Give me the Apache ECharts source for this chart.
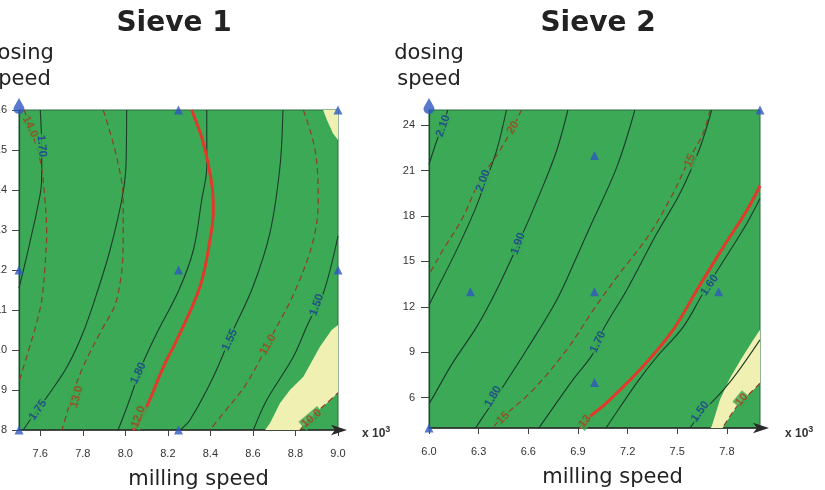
<!DOCTYPE html>
<html><head><meta charset="utf-8">
<script src="https://cdn.jsdelivr.net/npm/echarts@6/dist/echarts.min.js"></script>
<style>html,body{margin:0;padding:0;background:#fff}#c{width:825px;height:490px}</style>
</head><body><div id="c"></div>
<script>
// ===== Sieve 1 : milling speed (x10^3) vs dosing speed =====
const s1XTicks = [7.6, 7.8, 8.0, 8.2, 8.4, 8.6, 8.8, 9.0];
const s1Design = [[8.25,16],[9.0,16],[7.5,12],[8.25,12],[9.0,12],[7.5,8],[8.25,8]];
// solid contours (response A)
const s1_c170 = [[7.600,16],[7.607,15.0],[7.606,14.2],[7.585,13.5],[7.560,12.9],[7.530,12.2],[7.500,11.55]];
const s1_c175 = [[8.006,16],[8.003,14.6],[7.983,13.75],[7.928,12.5],[7.871,11.5],[7.801,10.43],[7.726,9.58],[7.632,8.83],[7.552,8.25],[7.520,8.0]];
const s1_c180 = [[8.383,16],[8.383,14.58],[8.359,13.75],[8.320,12.5],[8.252,11.5],[8.149,10.43],[8.083,9.68],[8.008,8.58],[7.966,8.0]];
const s1_c155 = [[8.741,16],[8.727,14.58],[8.680,12.93],[8.600,11.58],[8.508,10.5],[8.414,9.33],[8.304,8.25],[8.257,8.0]];
const s1_c150 = [[9.0,12.85],[8.931,11.42],[8.860,10.67],[8.790,9.83],[8.665,8.75],[8.602,8.0]];
// dashed contours (response B)
const s1_c140 = [[7.524,16],[7.536,15.83],[7.599,14.75],[7.622,13.75],[7.630,12.93],[7.622,12.08],[7.607,11.25],[7.583,10.68],[7.536,9.83],[7.500,9.2]];
const s1_c130 = [[7.896,16],[7.959,14.83],[7.990,13.75],[7.990,12.75],[7.959,11.25],[7.881,10.43],[7.801,9.58],[7.749,8.83],[7.702,8.0]];
const s1_c110 = [[8.837,16],[8.892,15.0],[8.907,13.75],[8.884,12.75],[8.800,11.5],[8.696,10.42],[8.571,9.17],[8.461,8.42],[8.398,8.0]];
const s1_c100 = [[8.821,8.0],[8.884,8.375],[8.947,8.67],[9.0,8.93]];
// highlighted contour 12.0
const s1_c120 = [[8.312,16],[8.367,15.17],[8.406,14.17],[8.414,13.5],[8.398,12.75],[8.351,11.58],[8.242,10.25],[8.179,9.58],[8.100,8.58],[8.037,8.0]];
// out-of-spec regions
const s1_yellowA = [[9.0,10.625],[8.970,10.5],[8.915,10.08],[8.837,9.33],[8.774,9.0],[8.727,8.67],[8.680,8.17],[8.657,8.0],[8.821,8.0],[8.884,8.375],[8.947,8.67],[9.0,8.93]];
const s1_yellowB = [[8.93,16],[9.0,16],[9.0,15.25],[8.976,15.42],[8.948,15.75]];
// contour labels: [text, x, y]
const s1_labelsSolid = [['1.70',7.607,15.1],['1.75',7.589,8.5],['1.80',8.061,9.42],['1.55',8.492,10.25],['1.50',8.900,11.125]];
const s1_labelsDashed = [['14.0',7.552,15.58],['13.0',7.771,8.83],['12.0',8.061,8.33],['11.0',8.671,10.13],['10.0',8.876,8.29]];

// ===== Sieve 2 =====
const s2XTicks = [6.0, 6.3, 6.6, 6.9, 7.2, 7.5, 7.8];
const s2YTicks = [6, 9, 12, 15, 18, 21, 24];
const s2Design = [[6.0,4],[6.25,13],[7.0,22],[7.0,13],[7.0,7],[7.75,13],[8.0,25]];
const s2_c210 = [[6.0,21.4],[6.047,22.97],[6.083,23.95],[6.113,25]];
const s2_c200 = [[6.468,25],[6.408,22.3],[6.337,20.14],[6.276,18.37],[6.166,15.73],[6.015,12.45],[6.0,12.1]];
const s2_c190 = [[6.839,25],[6.771,22.31],[6.670,19.48],[6.548,16.38],[6.408,13.1],[6.287,10.66],[6.143,8.3],[6.015,5.86],[6.0,5.6]];
const s2_c180 = [[7.244,25],[7.134,21.21],[6.972,17.26],[6.892,15.29],[6.771,12.44],[6.589,9.15],[6.408,6.08],[6.287,4.1],[6.28,4.0]];
const s2_c170 = [[7.708,25],[7.637,22.51],[7.516,19.48],[7.376,16.84],[7.194,13.1],[7.051,10.47],[6.992,8.93],[6.869,7.18],[6.670,4.1],[6.663,4.0]];
const s2_c160 = [[8.0,19.15],[7.920,17.5],[7.819,15.72],[7.656,12.9],[7.535,10.66],[7.376,8.69],[7.255,6.98],[7.075,4.09],[7.07,4.0]];
const s2_c150 = [[8.0,9.82],[7.860,7.62],[7.779,6.52],[7.638,4.88],[7.577,4.0]];
const s2_c20 = [[6.559,25],[6.506,23.83],[6.428,22.32],[6.307,20.34],[6.204,17.9],[6.083,15.73],[6.015,14.42],[6.0,14.1]];
const s2_c15 = [[7.698,25],[7.655,23.43],[7.577,21.85],[7.474,19.48],[7.335,16.84],[7.134,13.95],[6.992,11.78],[6.831,9.15],[6.629,6.52],[6.428,4.55],[6.385,4.0]];
const s2_c10 = [[8.0,6.96],[7.920,6.08],[7.860,5.42],[7.779,4.1],[7.775,4.0]];
const s2_c13 = [[8.0,20.0],[7.920,18.36],[7.777,15.93],[7.618,13.1],[7.474,10.47],[7.274,7.84],[7.073,5.66],[6.972,4.74],[6.912,4.0]];
const s2_yellow = [[8.0,10.48],[7.960,9.82],[7.889,8.61],[7.818,7.29],[7.758,5.87],[7.708,4.1],[7.70,4.0],[7.775,4.0],[7.779,4.1],[7.860,5.42],[7.920,6.08],[8.0,6.96]];
const s2_labelsSolid = [['2.10',6.085,23.95],['2.00',6.327,20.33],['1.90',6.538,16.17],['1.80',6.387,6.08],['1.70',7.021,9.68],['1.60',7.696,13.43],['1.50',7.638,5.08]];
const s2_labelsDashed = [['20',6.508,23.84],['15',7.577,21.66],['15',6.448,4.66],['13',6.942,4.43],['10',7.890,5.86]];

// ===== styles =====
const GREEN = '#3ba955', YELLOW = '#f1f0b3';
const SOLID = '#1b3b2b', DASH = '#8f3f22', RED = '#e2392a';
const BLUE_T = '#1c3b94', BROWN_T = '#a8401c';
const s1SolidAngles = [-85, 55, 65, 65, 70];
const s1DashedAngles = [-65, 75, 70, 60, 40];
const s2SolidAngles = [70, 70, 70, 60, 65, 55, 55];
const s2DashedAngles = [60, 65, 45, 50, 50];

function lineS(g, data, kind) {
  const ls = kind === 'solid' ? {color: SOLID, width: 1.1}
          : kind === 'dash' ? {color: DASH, width: 1.2, type: [6, 4]}
          : {color: RED, width: 3};
  return {type: 'line', xAxisIndex: g, yAxisIndex: g, data, showSymbol: false, smooth: 0.35,
    lineStyle: ls, silent: true, z: kind === 'red' ? 4 : 3, animation: false};
}
function polyS(g, poly) {
  return {type: 'custom', xAxisIndex: g, yAxisIndex: g, data: [poly[0]], silent: true, z: 2, animation: false,
    renderItem: (p, api) => ({type: 'polygon', shape: {points: poly.map(q => api.coord(q))}, style: {fill: YELLOW}})};
}
function labelS(g, labels, angles, color) {
  return {type: 'scatter', xAxisIndex: g, yAxisIndex: g, symbolSize: 1, itemStyle: {color: 'rgba(0,0,0,0)'},
    silent: true, z: 6, animation: false,
    data: labels.map((l, i) => ({name: l[0], value: [l[1], l[2]], label: {rotate: angles[i]}})),
    label: {show: true, position: 'inside', formatter: '{b}', color, fontSize: 11.5, fontWeight: 'bold',
      fontFamily: 'Liberation Sans', backgroundColor: GREEN, padding: [0, 1]}};
}
function designS(g, pts) {
  return {type: 'scatter', xAxisIndex: g, yAxisIndex: g, data: pts, symbol: 'triangle', symbolSize: 9,
    itemStyle: {color: '#2f58c0'}, clip: false, z: 10, silent: true, animation: false};
}
const PIN = 'path://M5,0 L9.5,9 A4.8,4.8 0 1 1 0.5,9 Z';
function pinS(g, pt) {
  return {type: 'scatter', xAxisIndex: g, yAxisIndex: g, data: [pt], symbol: PIN, symbolSize: [11, 16],
    symbolOffset: [0, -4], itemStyle: {color: '#2f58c0'}, clip: false, z: 11, silent: true, animation: false};
}
const fmt1 = v => v.toFixed(1);
function xAx(g, min, max, ticks, pad) {
  return {gridIndex: g, type: 'value', min, max,
    axisLine: {show: true, onZero: false, lineStyle: {color: '#2a2a2a', width: 1.5},
      symbol: ['none', 'arrow'], symbolSize: [8, 16], symbolOffset: [0, 9]},
    axisTick: {show: true, customValues: ticks, length: 6, lineStyle: {color: '#444'}},
    axisLabel: {customValues: ticks, formatter: fmt1, fontSize: 11, color: '#333', margin: 18, fontFamily: 'Liberation Sans'},
    splitLine: {show: false},
    name: 'milling speed', nameLocation: 'middle', nameGap: 39,
    nameTextStyle: {fontSize: 21, fontFamily: 'DejaVu Sans', color: '#222', padding: [0, 0, 0, pad]}};
}
function yAx(g, min, max, extra) {
  return Object.assign({gridIndex: g, type: 'value', min, max,
    axisLine: {show: true, onZero: false, lineStyle: {color: '#2a4050', width: 1.2}},
    axisTick: {show: true, length: 7, lineStyle: {color: '#444'}},
    axisLabel: {fontSize: 11, color: '#333', margin: 12, fontFamily: 'Liberation Sans'},
    splitLine: {show: false},
    name: 'dosing\nspeed', nameLocation: 'end', nameGap: 17,
    nameTextStyle: {fontSize: 21, lineHeight: 26, fontFamily: 'DejaVu Sans', color: '#222', align: 'center', verticalAlign: 'bottom'}}, extra);
}

const chart = echarts.init(document.getElementById('c'), null, {renderer: 'canvas'});
chart.setOption({
  animation: false,
  backgroundColor: '#fff',
  title: [
    {text: 'Sieve 1', left: 174, top: 10, textAlign: 'center', padding: 0,
      textStyle: {fontFamily: 'DejaVu Sans', fontWeight: 'bold', fontSize: 28, color: '#222'}},
    {text: 'Sieve 2', left: 598, top: 10, textAlign: 'center', padding: 0,
      textStyle: {fontFamily: 'DejaVu Sans', fontWeight: 'bold', fontSize: 28, color: '#222'}},
    {text: '{a|x 10}{b|3}', left: 362, top: 425, padding: 0,
      textStyle: {rich: {a: {fontSize: 12, color: '#333', fontFamily: 'Liberation Sans', verticalAlign: 'bottom'},
        b: {fontSize: 9, color: '#333', fontFamily: 'Liberation Sans', verticalAlign: 'top', padding: [0, 0, 6, 0]}}}},
    {text: '{a|x 10}{b|3}', left: 785, top: 425, padding: 0,
      textStyle: {rich: {a: {fontSize: 12, color: '#333', fontFamily: 'Liberation Sans', verticalAlign: 'bottom'},
        b: {fontSize: 9, color: '#333', fontFamily: 'Liberation Sans', verticalAlign: 'top', padding: [0, 0, 6, 0]}}}}
  ],
  grid: [
    {left: 19, top: 110, width: 319, height: 320, show: true, backgroundColor: GREEN, borderColor: '#2a6a3e', borderWidth: 1,
      containLabel: false, outerBoundsMode: 'none'},
    {left: 429, top: 110, width: 331, height: 318, show: true, backgroundColor: GREEN, borderColor: '#2a6a3e', borderWidth: 1,
      containLabel: false, outerBoundsMode: 'none'}
  ],
  xAxis: [xAx(0, 7.5, 9.0, s1XTicks, 40), xAx(1, 6.0, 8.0, s2XTicks, 36)],
  yAxis: [
    yAx(0, 8, 16, {interval: 1}),
    yAx(1, 4, 25, {axisTick: {show: true, length: 8, customValues: s2YTicks, lineStyle: {color: '#444'}},
      axisLabel: {customValues: s2YTicks, fontSize: 11, color: '#333', margin: 14, fontFamily: 'Liberation Sans'}})
  ],
  series: [
    polyS(0, s1_yellowA), polyS(0, s1_yellowB), polyS(1, s2_yellow),
    lineS(0, s1_c170, 'solid'), lineS(0, s1_c175, 'solid'), lineS(0, s1_c180, 'solid'),
    lineS(0, s1_c155, 'solid'), lineS(0, s1_c150, 'solid'),
    lineS(0, s1_c140, 'dash'), lineS(0, s1_c130, 'dash'), lineS(0, s1_c110, 'dash'), lineS(0, s1_c100, 'dash'),
    lineS(0, s1_c120, 'red'),
    lineS(1, s2_c210, 'solid'), lineS(1, s2_c200, 'solid'), lineS(1, s2_c190, 'solid'), lineS(1, s2_c180, 'solid'),
    lineS(1, s2_c170, 'solid'), lineS(1, s2_c160, 'solid'), lineS(1, s2_c150, 'solid'),
    lineS(1, s2_c20, 'dash'), lineS(1, s2_c15, 'dash'), lineS(1, s2_c10, 'dash'),
    lineS(1, s2_c13, 'red'),
    labelS(0, s1_labelsSolid, s1SolidAngles, BLUE_T), labelS(0, s1_labelsDashed, s1DashedAngles, BROWN_T),
    labelS(1, s2_labelsSolid, s2SolidAngles, BLUE_T), labelS(1, s2_labelsDashed, s2DashedAngles, BROWN_T),
    designS(0, s1Design), designS(1, s2Design),
    pinS(0, [7.5, 16]), pinS(1, [6.0, 25])
  ]
});
</script></body></html>
